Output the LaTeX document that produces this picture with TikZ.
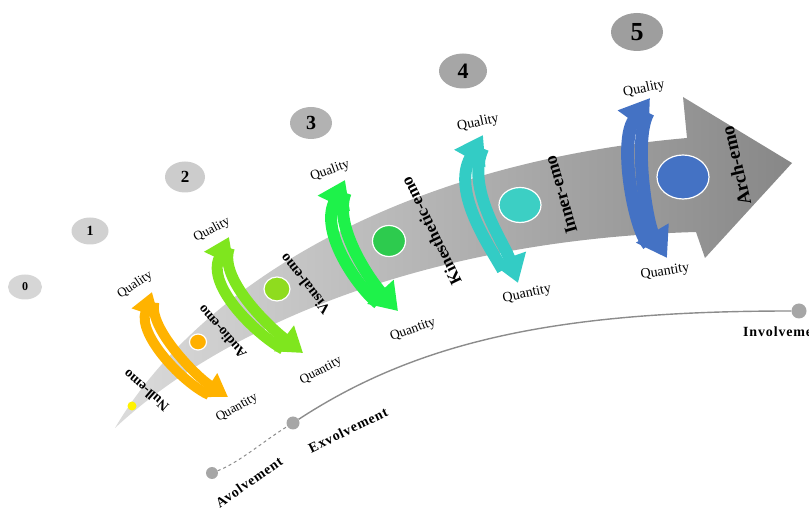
\documentclass[tikz,border=0pt]{standalone}
\usepackage{fontspec}
\setmainfont{Liberation Serif}
\usetikzlibrary{arrows.meta,calc,shapes.geometric}
\definecolor{corange}{HTML}{FFB300}
\definecolor{clgreen}{HTML}{7FE61E}
\definecolor{cgreen}{HTML}{1EF24A}
\definecolor{cturq}{HTML}{33CCC5}
\definecolor{cblue}{HTML}{4472C4}
\definecolor{dorange}{HTML}{FFB000}
\definecolor{dlgreen}{HTML}{8FDC1E}
\definecolor{dgreen}{HTML}{2DCB4E}
\definecolor{dturq}{HTML}{3CCFC4}
\newcommand\emoarrows[7]{%
  \draw[pairarrow,#1] ([shift={#6}]#5) .. controls ([shift={#6}]#4) and ([shift={#6}]#3) .. (#2);
  \draw[pairarrow,#1] ([shift={#7}]#2) .. controls ([shift={#7}]#3) and ([shift={#7}]#4) .. (#5);
}
\begin{document}
\begin{tikzpicture}[x=1pt,y=-1pt,
  badge/.style={ellipse, inner sep=0pt},
  emo/.style={inner sep=0pt},
  ql/.style={inner sep=0pt},
  dotn/.style={ellipse, draw=white, line width=1.2pt, inner sep=0pt},
  vdot/.style={circle, fill=black!35, inner sep=0pt, minimum size=12pt},
  vlab/.style={inner sep=0pt, font=\bfseries\fontsize{14}{14}\selectfont\addfontfeatures{LetterSpace=6}}
]
\useasboundingbox (0,0) rectangle (809,510);

% number badges
\node[badge, fill=black!16, minimum width=34pt, minimum height=25pt, font=\bfseries\fontsize{12}{12}\selectfont] (b0) at (25,287) {0};
\node[badge, fill=black!18, minimum width=37pt, minimum height=27pt, font=\bfseries\fontsize{14}{14}\selectfont] (b1) at (90,231) {1};
\node[badge, fill=black!20, minimum width=40pt, minimum height=31pt, font=\bfseries\fontsize{17}{17}\selectfont] (b2) at (185,177) {2};
\node[badge, fill=black!30, minimum width=42pt, minimum height=32pt, font=\bfseries\fontsize{20}{20}\selectfont] (b3) at (311,123) {3};
\node[badge, fill=black!35, minimum width=48pt, minimum height=35pt, font=\bfseries\fontsize{22}{22}\selectfont] (b4) at (463,71) {4};
\node[badge, fill=black!38, minimum width=52pt, minimum height=38pt, font=\bfseries\fontsize{26}{26}\selectfont] (b5) at (637,32) {5};

% big gray band arrow
\shade[left color=black!14, right color=black!47]
  (115,428) .. controls (190,300) and (380,165) .. (687,138)
  -- (683,97) -- (792,163) -- (705,258) -- (696,232)
  .. controls (420,240) and (220,330) .. (115,428) -- cycle;

% circles on the band
\node[dotn, draw=none, fill=yellow, minimum width=9pt, minimum height=9pt] (cnull) at (132,406) {};
\node[dotn, fill=dorange, minimum width=17pt, minimum height=16pt] (caudio) at (198,342) {};
\node[dotn, fill=dlgreen, minimum width=26pt, minimum height=24pt] (cvis) at (277,289) {};
\node[dotn, fill=dgreen, minimum width=33pt, minimum height=31pt] (ckin) at (389,241) {};
\node[dotn, fill=dturq, minimum width=42pt, minimum height=35pt] (cinn) at (520,205) {};
\node[dotn, fill=cblue, minimum width=52pt, minimum height=44pt] (carch) at (683,177) {};

% double arrows
\begin{scope}[pairarrow/.style={line width=10pt, -{Triangle[width=27pt,length=22pt]}, shorten <=15pt}]
\emoarrows{corange}{152,292}{143,332}{190,380}{228,397}{(-5.5,4)}{(5.5,-4)}
\end{scope}
\begin{scope}[pairarrow/.style={line width=11pt, -{Triangle[width=31pt,length=24pt]}, shorten <=16pt}]
\emoarrows{clgreen}{229,237}{212,282}{262,330}{303,353}{(-6,4)}{(6,-4)}
\end{scope}
\begin{scope}[pairarrow/.style={line width=12pt, -{Triangle[width=34pt,length=26pt]}, shorten <=17pt}]
\emoarrows{cgreen}{345,180}{326,230}{365,285}{398,311}{(-6.5,3)}{(6.5,-3)}
\end{scope}
\begin{scope}[pairarrow/.style={line width=12pt, -{Triangle[width=34pt,length=27pt]}, shorten <=17pt}]
\emoarrows{cturq}{483,135}{458,190}{497,245}{518,283}{(-7,2)}{(7,-2)}
\end{scope}
\begin{scope}[pairarrow/.style={line width=13pt, -{Triangle[width=36pt,length=29pt]}, shorten <=18pt}]
\emoarrows{cblue}{650,98}{626,140}{640,225}{667,258}{(-7,1)}{(7,-1)}
\end{scope}

% emo labels
\node[emo, rotate=139, font=\bfseries\fontsize{14}{14}\selectfont] (lnull) at (146,391) {Null-emo};
\node[emo, rotate=131, font=\bfseries\fontsize{14}{14}\selectfont] (laudio) at (222,332) {Audio-emo};
\node[emo, rotate=128, font=\bfseries\fontsize{15}{15}\selectfont] (lvis) at (305,284) {Visual-emo};
\node[emo, rotate=116, font=\bfseries\fontsize{17}{17}\selectfont] (lkin) at (431,231) {Kinesthetic-emo};
\node[emo, rotate=106, font=\bfseries\fontsize{18}{18}\selectfont] (linn) at (561,195) {Inner-emo};
\node[emo, rotate=103, font=\bfseries\fontsize{19}{19}\selectfont] (larch) at (736,166) {Arch-emo};

% quality / quantity labels
\node[ql, rotate=34, font=\fontsize{13}{13}\selectfont] (q1) at (135,285) {Quality};
\node[ql, rotate=29, font=\fontsize{13}{13}\selectfont] (n1) at (237,408) {Quantity};
\node[ql, rotate=28, font=\fontsize{13}{13}\selectfont] (q2) at (212,230) {Quality};
\node[ql, rotate=28, font=\fontsize{13}{13}\selectfont] (n2) at (321,371) {Quantity};
\node[ql, rotate=20, font=\fontsize{13.5}{13.5}\selectfont] (q3) at (330,171) {Quality};
\node[ql, rotate=20, font=\fontsize{13.5}{13.5}\selectfont] (n3) at (413,330) {Quantity};
\node[ql, rotate=12, font=\fontsize{14}{14}\selectfont] (q4) at (478,123) {Quality};
\node[ql, rotate=12, font=\fontsize{14}{14}\selectfont] (n4) at (527,294) {Quantity};
\node[ql, rotate=12, font=\fontsize{14}{14}\selectfont] (q5) at (644,89) {Quality};
\node[ql, rotate=9, font=\fontsize{14}{14}\selectfont] (n5) at (665,272) {Quantity};

% volvement line
\node[vdot] (av) at (212,473) {};
\node[vdot, minimum size=13pt] (ex) at (293,423) {};
\node[vdot, minimum size=15pt] (inv) at (799,311) {};
\draw[black!45, dashed, line width=1pt] (av) .. controls (240,462) and (265,440) .. (ex);
\draw[black!45, line width=1.4pt] (ex) .. controls (420,340) and (560,311) .. (inv);
\node[vlab, rotate=35] (lav) at (249,482) {Avolvement};
\node[vlab, rotate=26] (lex) at (348,430) {Exvolvement};
\node[vlab, anchor=base west] (linv) at (743,337) {Involvement};
\end{tikzpicture}
\end{document}
